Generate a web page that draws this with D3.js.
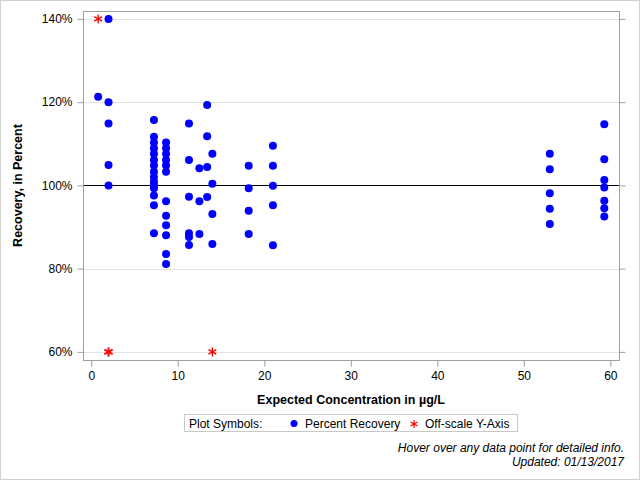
<!DOCTYPE html>
<html>
<head>
<meta charset="utf-8">
<script src="https://cdn.jsdelivr.net/npm/d3@7"></script>
<style>
  html, body { margin: 0; padding: 0; background: #fff; }
  svg { display: block; font-family: "Liberation Sans", Arial, sans-serif; }
</style>
</head>
<body>
<div id="chart"></div>
<script>
/*globals d3 */
// expected concentration (ug/L) and percent recovery
var concentration = [
    0.8,
    2, 2, 2, 2, 2,
    7.25, 7.25, 7.25, 7.25, 7.25, 7.25, 7.25, 7.25, 7.25, 7.25, 7.25, 7.25, 7.25, 7.25, 7.25,
    8.65, 8.65, 8.65, 8.65, 8.65, 8.65, 8.65, 8.65, 8.65, 8.65, 8.65, 8.65,
    11.3, 11.3, 11.3, 11.3, 11.3, 11.3,
    12.5, 12.5, 12.5,
    13.4, 13.4, 13.4, 13.4,
    14, 14, 14, 14,
    18.2, 18.2, 18.2, 18.2,
    21, 21, 21, 21, 21,
    53, 53, 53, 53, 53,
    59.3, 59.3, 59.3, 59.3, 59.3, 59.3, 59.3
];
var recovery = [
    121.3,
    140, 120, 114.9, 104.9, 100,
    115.7, 111.7, 110.3, 108.9, 107.6, 106.1, 104.8, 103.3, 102.0, 100.9, 100.1, 99.3, 97.6, 95.2, 88.5,
    110.3, 108.9, 107.6, 106.1, 104.8, 103.3, 96.2, 92.7, 90.4, 88.0, 83.5, 81.1,
    114.9, 106.1, 97.3, 88.5, 87.6, 85.7,
    104.1, 96.2, 88.3,
    119.3, 111.8, 104.4, 97.2,
    107.6, 100.4, 93.1, 85.9,
    104.7, 99.3, 93.9, 88.3,
    109.5, 104.7, 99.9, 95.2, 85.6,
    107.6, 103.9, 98.1, 94.4, 90.7,
    114.7, 106.3, 101.3, 99.5, 96.3, 94.5, 92.5
];
// points outside 60-140% are pinned to the axis limits
var offConcentration = [0.8, 1.95, 2.05, 14];
var offRecovery = [140, 60, 60, 60];

var xTicks = [0, 10, 20, 30, 40, 50, 60];
var yTicks = [60, 80, 100, 120, 140];
var legendLabels = ["Percent Recovery", "Off-scale Y-Axis"];

(function () {
    'use strict';
    var svg, x, y, plot, points, stars, legend,
        W = 640,
        H = 480,
        left = 83,
        top = 11,
        right = 619,
        bottom = 360;

    function starPath(r) {
        // six armed asterisk
        var a, i, d = "";
        for (i = 0; i < 3; i += 1) {
            a = Math.PI / 2 + i * Math.PI / 3;
            d += "M" + (r * Math.cos(a)) + "," + (r * Math.sin(a)) +
                "L" + (-r * Math.cos(a)) + "," + (-r * Math.sin(a));
        }
        return d;
    }

    points = concentration.map(function (c, i) {
        return {x: c, y: recovery[i]};
    });
    stars = offConcentration.map(function (c, i) {
        return {x: c, y: offRecovery[i]};
    });

    x = d3.scaleLinear().domain([-0.95, 61]).range([left, right]);
    y = d3.scaleLinear().domain([58.05, 141.9]).range([bottom, top]);

    svg = d3.select("#chart").append("svg")
        .attr("width", W)
        .attr("height", H);

    // outer border
    svg.append("rect")
        .attr("x", 0.5).attr("y", 0.5)
        .attr("width", W - 1).attr("height", H - 1)
        .attr("fill", "#fff")
        .attr("stroke", "#d0d0d0");

    // gridlines
    svg.append("g").selectAll("line")
        .data(yTicks.filter(function (d) { return d !== 100; }))
        .enter().append("line")
        .attr("x1", left).attr("x2", right)
        .attr("y1", function (d) { return Math.round(y(d)) + 0.5; })
        .attr("y2", function (d) { return Math.round(y(d)) + 0.5; })
        .attr("stroke", "#e2e2e2");

    // 100% reference line
    svg.append("line")
        .attr("x1", left).attr("x2", right)
        .attr("y1", Math.round(y(100)) + 0.5)
        .attr("y2", Math.round(y(100)) + 0.5)
        .attr("stroke", "#000");

    // axes
    svg.append("g")
        .attr("transform", "translate(0," + (bottom + 0.5) + ")")
        .call(d3.axisBottom(x).tickValues(xTicks).tickSize(6).tickPadding(5).tickSizeOuter(0))
        .call(function (g) { g.select(".domain").remove(); });

    svg.append("g")
        .attr("transform", "translate(" + (left + 0.5) + ",0)")
        .call(d3.axisLeft(y).tickValues(yTicks).tickSize(6).tickPadding(5).tickSizeOuter(0)
            .tickFormat(function (d) { return d + "%"; }))
        .call(function (g) { g.select(".domain").remove(); });

    svg.append("g")
        .attr("transform", "translate(" + (right + 0.5) + ",0)")
        .call(d3.axisRight(y).tickValues(yTicks).tickSize(6).tickFormat("").tickSizeOuter(0))
        .call(function (g) { g.select(".domain").remove(); });

    svg.selectAll(".tick line").attr("stroke", "#a0a0a0");
    svg.selectAll(".tick text")
        .attr("fill", "#000")
        .style("font-size", "12px")
        .style("font-family", "'Liberation Sans', Arial, sans-serif");

    // plot frame
    svg.append("rect")
        .attr("x", left + 0.5).attr("y", top + 0.5)
        .attr("width", right - left).attr("height", bottom - top)
        .attr("fill", "none")
        .attr("stroke", "#a0a0a0");

    plot = svg.append("g");

    plot.selectAll("circle")
        .data(points)
        .enter().append("circle")
        .attr("cx", function (d) { return x(d.x); })
        .attr("cy", function (d) { return y(d.y); })
        .attr("r", 4)
        .attr("fill", "#0000ff");

    plot.selectAll("path.star")
        .data(stars)
        .enter().append("path")
        .attr("class", "star")
        .attr("transform", function (d) { return "translate(" + x(d.x) + "," + y(d.y) + ")"; })
        .attr("d", starPath(4.5))
        .attr("stroke", "#ff0000")
        .attr("stroke-width", 1.3)
        .attr("fill", "none");

    // axis titles
    svg.append("text")
        .attr("x", (left + right) / 2)
        .attr("y", 404)
        .attr("text-anchor", "middle")
        .style("font-size", "12.5px")
        .style("font-weight", "bold")
        .text("Expected Concentration in \u00b5g/L");

    svg.append("text")
        .attr("transform", "translate(22," + ((top + bottom) / 2) + ") rotate(-90)")
        .attr("text-anchor", "middle")
        .style("font-size", "12.5px")
        .style("font-weight", "bold")
        .text("Recovery, in Percent");

    // legend
    legend = svg.append("g");
    legend.append("rect")
        .attr("x", 184.5).attr("y", 414.5)
        .attr("width", 333).attr("height", 17)
        .attr("fill", "#fff")
        .attr("stroke", "#c8c8c8");
    legend.append("text")
        .attr("x", 189).attr("y", 428)
        .style("font-size", "12px")
        .text("Plot Symbols:");
    legend.append("circle")
        .attr("cx", 294).attr("cy", 423.5).attr("r", 3.5)
        .attr("fill", "#0000ff");
    legend.append("text")
        .attr("x", 305).attr("y", 428)
        .style("font-size", "12px")
        .text(legendLabels[0]);
    legend.append("path")
        .attr("transform", "translate(414,424)")
        .attr("d", starPath(4))
        .attr("stroke", "#ff0000")
        .attr("stroke-width", 1.2)
        .attr("fill", "none");
    legend.append("text")
        .attr("x", 425).attr("y", 428)
        .style("font-size", "12px")
        .text(legendLabels[1]);

    // footnotes
    svg.append("text")
        .attr("x", 624).attr("y", 452)
        .attr("text-anchor", "end")
        .style("font-size", "12px")
        .style("font-style", "italic")
        .text("Hover over any data point for detailed info.");
    svg.append("text")
        .attr("x", 624).attr("y", 466)
        .attr("text-anchor", "end")
        .style("font-size", "12px")
        .style("font-style", "italic")
        .text("Updated: 01/13/2017");
}());
</script>
</body>
</html>
